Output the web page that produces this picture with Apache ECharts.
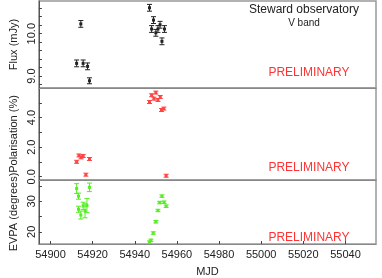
<!DOCTYPE html>
<html><head><meta charset="utf-8">
<script src="https://cdn.jsdelivr.net/npm/echarts@6/dist/echarts.min.js"></script>
<style>html,body{margin:0;padding:0;background:#fff}#c{width:382px;height:278px}</style>
</head><body><div id="c"></div>
<script>
// ---- data ----
var fluxMJD = [54912.4, 54914.4, 54915.5, 54917.6, 54918.5, 54947.0, 54948.0, 54948.9, 54950.0, 54951.0, 54952.0, 54952.9, 54954.1];
var fluxVal = [9.30, 10.23, 9.30, 9.23, 8.89, 10.61, 10.11, 10.32, 10.02, 10.11, 10.21, 9.82, 10.11];
var fluxErr = [0.08, 0.08, 0.08, 0.08, 0.07, 0.08, 0.08, 0.08, 0.08, 0.08, 0.08, 0.08, 0.08];

var polMJD = [54912.4, 54913.5, 54914.5, 54915.5, 54916.8, 54918.5, 54947.0, 54948.0, 54949.1, 54950.0, 54951.0, 54952.1, 54952.7, 54953.8, 54954.9];
var polVal = [1.01, 1.44, 1.31, 1.40, 0.14, 1.20, 5.05, 5.51, 5.28, 5.69, 5.19, 5.39, 4.51, 4.61, 0.07];
var polErr = [0.1, 0.1, 0.1, 0.1, 0.1, 0.1, 0.1, 0.1, 0.1, 0.1, 0.1, 0.1, 0.1, 0.1, 0.1];

var evpaMJD = [54912.4, 54913.3, 54913.3, 54914.4, 54915.5, 54916.4, 54917.3, 54918.5, 54947.0, 54947.7, 54948.8, 54950.0, 54951.0, 54951.8, 54952.9, 54953.9, 54954.9];
var evpaVal = [34.2, 31.7, 27.4, 25.5, 28.5, 26.9, 28.6, 34.6, 16.6, 17.2, 19.6, 23.3, 27.0, 29.6, 31.7, 29.7, 28.4];
var evpaErr = [1.6, 1.0, 1.0, 1.3, 1.2, 2.3, 2.3, 1.4, 0.4, 0.4, 0.4, 0.4, 0.4, 0.4, 0.4, 0.4, 0.4];

var xTicks = [54900, 54920, 54940, 54960, 54980, 55000, 55020, 55040];
var fluxTicks = [8.8, 9.0, 9.2, 9.4, 9.6, 9.8, 10.0, 10.2, 10.4, 10.6];
var fluxLabels = [9.0, 10.0];
var polTicks = [0, 1, 2, 3, 4, 5];
var polLabels = [0, 2, 4];
var evpaTicks = [20, 25, 30, 35];
var evpaLabels = [20, 30];

function zip(a, b, c) { return a.map(function (v, i) { return [v, b[i], c[i]]; }); }

function errRender(color) {
  return function (params, api) {
    var x = api.value(0), y = api.value(1), e = api.value(2);
    var p = api.coord([x, y]), lo = api.coord([x, y - e]), hi = api.coord([x, y + e]);
    var w = 2.5;
    var st = { stroke: color, lineWidth: 1 };
    return { type: 'group', children: [
      { type: 'line', shape: { x1: p[0], y1: lo[1], x2: p[0], y2: hi[1] }, style: st },
      { type: 'line', shape: { x1: p[0] - w, y1: lo[1], x2: p[0] + w, y2: lo[1] }, style: st },
      { type: 'line', shape: { x1: p[0] - w, y1: hi[1], x2: p[0] + w, y2: hi[1] }, style: st },
      { type: 'rect', shape: { x: p[0] - 1.5, y: p[1] - 1.5, width: 3, height: 3 }, style: { fill: color } }
    ]};
  };
}

var FONT = 'Liberation Sans, Arial, sans-serif';
var xmin = 54894.5, xmax = 55054.5;

function xAx(idx, showLabels) {
  return {
    type: 'value', gridIndex: idx, min: xmin, max: xmax,
    axisLine: { show: true, onZero: false, lineStyle: { color: '#888', width: 1 } },
    axisTick: { show: showLabels, inside: true, length: 3, customValues: xTicks, lineStyle: { color: '#444' } },
    axisLabel: { show: showLabels, customValues: xTicks, color: '#222', fontSize: 11, fontFamily: FONT, margin: 5,
      formatter: function (v) { return String(v); } },
    splitLine: { show: false },
    name: showLabels ? 'MJD' : '', nameLocation: 'middle', nameGap: 22,
    nameTextStyle: { color: '#222', fontSize: 11, fontFamily: FONT }
  };
}
function yAx(idx, min, max, ticks, labels, name, fmt, gap) {
  return {
    type: 'value', gridIndex: idx, min: min, max: max,
    axisLine: { show: true, onZero: false, lineStyle: { color: '#555', width: 1 } },
    axisTick: { show: true, inside: true, length: 3, customValues: ticks, lineStyle: { color: '#444' } },
    axisLabel: { customValues: labels, rotate: 90, color: '#222', fontSize: 11, fontFamily: FONT, margin: 1,
      formatter: function (v) { return fmt(v); } },
    splitLine: { show: false },
    name: name, nameLocation: 'middle', nameRotate: 90, nameGap: gap,
    nameTextStyle: { color: '#222', fontSize: 11, fontFamily: FONT }
  };
}

var chart = echarts.init(document.getElementById('c'), null, { renderer: 'canvas' });
chart.setOption({
  animation: false,
  backgroundColor: '#fff',
  grid: [
    { left: 24, right: 6, top: 1, height: 87, show: true, borderColor: '#999', borderWidth: 1.5, backgroundColor: 'transparent' },
    { left: 24, right: 6, top: 88, height: 92, show: true, borderColor: '#999', borderWidth: 1.5, backgroundColor: 'transparent' },
    { left: 24, right: 6, top: 180, height: 68, show: true, borderColor: '#999', borderWidth: 1.5, backgroundColor: 'transparent' }
  ],
  xAxis: [xAx(0, false), xAx(1, false), xAx(2, true)],
  yAxis: [
    yAx(0, 8.72, 10.77, fluxTicks, fluxLabels, 'Flux (mJy)', function (v) { return v.toFixed(1); }, 17),
    yAx(1, -0.22, 6.0, polTicks, polLabels, 'Polarisation (%)', function (v) { return v.toFixed(1); }, 17),
    yAx(2, 16, 37, evpaTicks, evpaLabels, 'EVPA (degrees)', function (v) { return String(v); }, 17)
  ],
  graphic: [
    { type: 'text', x: 304, y: 4, style: { text: 'Steward observatory', fill: '#222', font: '12px ' + FONT, align: 'center' } },
    { type: 'text', x: 304, y: 18, style: { text: 'V band', fill: '#222', font: '10px ' + FONT, align: 'center' } },
    { type: 'text', x: 309, y: 67, style: { text: 'PRELIMINARY', fill: '#f33', font: '12px ' + FONT, align: 'center' } },
    { type: 'text', x: 309, y: 162, style: { text: 'PRELIMINARY', fill: '#f33', font: '12px ' + FONT, align: 'center' } },
    { type: 'text', x: 309, y: 232, style: { text: 'PRELIMINARY', fill: '#f33', font: '12px ' + FONT, align: 'center' } }
  ],
  series: [
    { type: 'custom', xAxisIndex: 0, yAxisIndex: 0, clip: true, renderItem: errRender('#222'), data: zip(fluxMJD, fluxVal, fluxErr) },
    { type: 'custom', xAxisIndex: 1, yAxisIndex: 1, clip: true, renderItem: errRender('#f44'), data: zip(polMJD, polVal, polErr) },
    { type: 'custom', xAxisIndex: 2, yAxisIndex: 2, clip: true, renderItem: errRender('#5e2'), data: zip(evpaMJD, evpaVal, evpaErr) }
  ]
});
</script></body></html>
